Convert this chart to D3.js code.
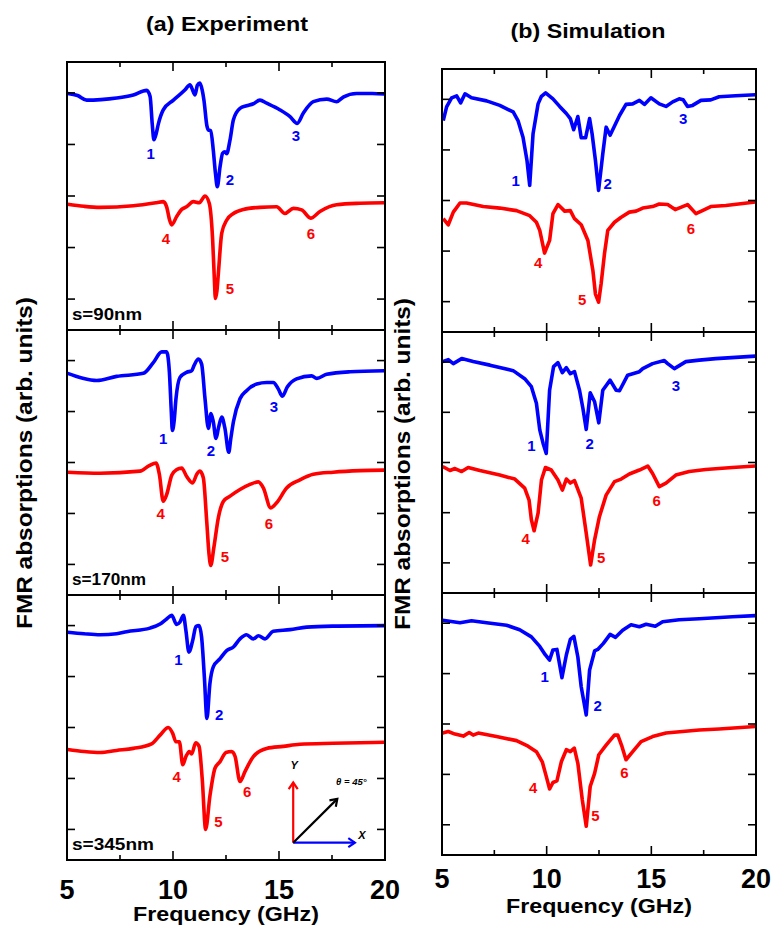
<!DOCTYPE html>
<html><head><meta charset="utf-8">
<script src="https://cdn.jsdelivr.net/npm/d3@7"></script>
<style>body{margin:0;background:#fff} text{font-family:"Liberation Sans",Arial,Helvetica,sans-serif;font-weight:bold}</style>
</head><body><svg id="c" width="774" height="928"></svg>
<script>
// ---------- data (frequency GHz, absorption arb. units) ----------
const freqTicks = [5, 10, 15, 20];
const freqMinor = [7.5, 12.5, 17.5];
const absTicks = [0, 1, 2, 3, 4];
const panelNames = ["s=90nm", "s=170nm", "s=345nm"];

const expBlue90 = [[5.03,3.99],[5.5,3.95],[5.93,3.86],[6.6,3.87],[7.34,3.90],[8.13,3.96],[8.76,4.05],[8.92,3.93],[9.02,3.4],[9.10,3.09],[9.2,3.2],[9.31,3.40],[9.54,3.67],[10.02,3.86],[10.57,4.06],[10.80,4.16],[10.9,4.08],[11.04,3.96],[11.15,4.15],[11.27,4.19],[11.38,4.05],[11.46,3.86],[11.60,3.36],[11.67,3.28],[11.78,3.27],[11.90,2.89],[12.0,2.45],[12.09,2.18],[12.22,2.57],[12.34,2.83],[12.45,2.86],[12.53,2.82],[12.69,3.09],[12.85,3.48],[13.16,3.70],[13.47,3.75],[13.79,3.79],[14.10,3.86],[14.42,3.80],[15.05,3.67],[15.52,3.54],[15.86,3.41],[16.15,3.61],[16.62,3.83],[17.25,3.88],[17.72,3.83],[18.03,3.92],[18.66,3.99],[19.4,3.99],[19.97,3.98]];
const expRed90 = [[5.03,1.84],[5.8,1.80],[6.56,1.78],[8.13,1.81],[9.23,1.87],[9.54,1.89],[9.70,1.79],[9.85,1.52],[9.94,1.44],[10.17,1.60],[10.41,1.74],[10.64,1.79],[10.96,1.89],[11.24,1.87],[11.51,2.00],[11.71,1.86],[11.87,1.15],[11.95,0.40],[12.0,0.01],[12.07,0.15],[12.14,0.50],[12.30,1.28],[12.53,1.53],[12.85,1.66],[13.32,1.74],[14.10,1.78],[14.89,1.79],[15.28,1.66],[15.68,1.76],[16.07,1.73],[16.49,1.57],[16.93,1.70],[17.72,1.83],[18.82,1.86],[19.97,1.87]];
const expLabels90 = [["1",8.95,2.82],["2",12.69,2.31],["3",15.80,3.17],["4",9.67,1.18],["5",12.69,0.21],["6",16.51,1.28]];

const expBlue170 = [[5.03,3.75],[5.7,3.66],[6.40,3.61],[7.34,3.69],[8.60,3.75],[9.07,3.96],[9.47,4.17],[9.70,4.17],[9.83,3.77],[9.92,3.0],[9.97,2.63],[10.05,2.8],[10.14,3.25],[10.33,3.67],[10.64,3.77],[10.88,3.80],[10.99,3.90],[11.20,4.03],[11.35,3.93],[11.51,3.25],[11.67,2.67],[11.79,2.96],[11.90,2.80],[12.03,2.47],[12.14,2.67],[12.30,2.89],[12.45,2.67],[12.63,2.20],[12.72,2.45],[12.85,2.80],[13.16,3.25],[13.47,3.41],[13.95,3.54],[14.42,3.57],[14.73,3.57],[14.97,3.44],[15.16,3.30],[15.39,3.48],[15.83,3.64],[16.54,3.70],[16.78,3.65],[17.25,3.73],[18.35,3.78],[19.97,3.80]];
const expRed170 = [[5.03,1.81],[6.56,1.79],[8.44,1.83],[8.88,1.94],[9.20,1.99],[9.36,1.76],[9.54,1.24],[9.70,1.37],[9.94,1.75],[10.17,1.86],[10.41,1.89],[10.64,1.73],[10.93,1.60],[11.12,1.77],[11.27,1.83],[11.43,1.70],[11.59,0.85],[11.70,0.2],[11.78,-0.02],[11.93,0.34],[12.14,0.92],[12.38,1.24],[12.69,1.34],[13.16,1.47],[13.63,1.57],[14.03,1.62],[14.26,1.50],[14.61,1.11],[14.89,1.21],[15.36,1.50],[15.99,1.66],[16.62,1.77],[17.56,1.81],[18.82,1.84],[19.97,1.85]];
const expLabels170 = [["1",9.54,2.46],["2",11.79,2.23],["3",14.76,3.09],["4",9.42,1.00],["5",12.45,0.16],["6",14.53,0.80]];

const expBlue345 = [[5.03,3.87],[5.8,3.84],[6.56,3.82],[7.34,3.84],[7.81,3.88],[8.91,3.95],[9.39,4.03],[9.70,4.13],[9.94,4.20],[10.17,4.02],[10.33,4.07],[10.49,4.20],[10.61,3.90],[10.75,3.48],[10.93,3.71],[11.08,3.98],[11.23,4.00],[11.35,3.77],[11.48,2.99],[11.60,2.18],[11.74,2.86],[11.90,3.19],[12.22,3.35],[12.53,3.51],[12.85,3.58],[13.16,3.74],[13.47,3.82],[13.79,3.74],[14.03,3.80],[14.34,3.74],[14.73,3.89],[15.52,3.92],[16.31,3.97],[17.56,3.99],[19.97,4.00]];
const expRed345 = [[5.03,1.57],[5.8,1.53],[6.56,1.51],[7.34,1.55],[8.13,1.59],[8.99,1.68],[9.39,1.85],[9.78,2.00],[9.98,1.89],[10.14,1.72],[10.30,1.72],[10.46,1.27],[10.61,1.43],[10.77,1.53],[10.88,1.48],[11.07,1.70],[11.23,1.63],[11.38,0.98],[11.54,0.00],[11.74,0.65],[11.98,1.20],[12.22,1.33],[12.50,1.51],[12.77,1.53],[12.93,1.43],[13.16,0.94],[13.40,1.14],[13.79,1.43],[14.42,1.59],[15.20,1.63],[15.99,1.67],[17.56,1.69],[19.97,1.71]];
const expLabels345 = [["1",10.25,3.33],["2",12.18,2.26],["4",10.17,1.04],["5",12.14,0.16],["6",13.50,0.75]];

const simBlue90 = [[5.06,3.58],[5.22,3.85],[5.46,4.03],[5.70,4.07],[5.89,3.93],[6.10,4.11],[6.41,4.03],[7.13,3.97],[7.76,3.88],[8.40,3.75],[8.63,3.58],[8.87,3.25],[9.06,2.79],[9.19,2.30],[9.35,3.32],[9.59,3.91],[9.75,4.06],[9.95,4.13],[10.30,4.01],[10.62,3.86],[10.94,3.72],[11.13,3.62],[11.29,3.40],[11.49,3.66],[11.65,3.24],[11.86,3.24],[12.05,3.62],[12.17,3.32],[12.33,2.79],[12.48,2.20],[12.68,2.92],[12.84,3.45],[13.03,3.29],[13.48,3.68],[13.79,3.90],[14.11,3.91],[14.43,3.98],[14.67,3.90],[14.98,4.03],[15.38,3.91],[15.70,3.86],[16.02,3.95],[16.33,4.01],[16.52,3.99],[16.73,3.86],[16.97,3.88],[17.37,3.98],[17.84,3.99],[18.24,4.05],[19.03,4.07],[19.97,4.09]];
const simRed90 = [[5.06,1.64],[5.30,1.52],[5.54,1.77],[5.86,1.95],[6.17,1.95],[6.97,1.88],[7.76,1.85],[8.56,1.80],[9.19,1.70],[9.51,1.57],[9.67,1.41],[9.90,0.96],[10.14,1.21],[10.30,1.74],[10.54,1.92],[10.86,1.79],[11.13,1.80],[11.33,1.64],[11.65,1.52],[11.97,1.21],[12.21,0.61],[12.33,0.15],[12.48,-0.01],[12.60,0.35],[12.76,0.94],[12.92,1.41],[13.24,1.57],[13.56,1.67],[13.95,1.77],[14.27,1.79],[14.59,1.85],[15.06,1.88],[15.38,1.93],[15.78,1.92],[16.14,1.82],[16.73,1.92],[17.13,1.74],[17.44,1.80],[17.84,1.88],[18.56,1.90],[19.97,1.97]];
const simLabels90 = [["1",8.52,2.40],["2",12.92,2.34],["3",16.52,3.62],["4",9.59,0.78],["5",11.70,0.05],["6",16.89,1.44]];

const simBlue170 = [[5.03,4.01],[5.30,4.05],[5.54,3.97],[5.94,4.07],[6.49,4.01],[7.29,3.94],[8.40,3.83],[8.95,3.67],[9.27,3.51],[9.51,3.18],[9.67,2.65],[9.83,2.38],[9.98,2.18],[10.14,3.44],[10.33,3.91],[10.54,3.99],[10.75,3.79],[10.94,3.89],[11.13,3.77],[11.33,3.81],[11.57,3.44],[11.73,3.08],[11.89,2.66],[12.08,3.39],[12.29,3.21],[12.49,2.79],[12.68,3.44],[13.03,3.64],[13.32,3.44],[13.48,3.43],[13.87,3.74],[14.43,3.81],[14.59,3.87],[15.06,3.97],[15.62,4.03],[15.78,3.97],[16.10,3.87],[16.65,4.01],[17.29,4.04],[18.08,4.07],[19.97,4.12]];
const simRed170 = [[5.03,1.92],[5.38,1.84],[5.62,1.88],[5.94,1.82],[6.25,1.90],[6.81,1.84],[7.76,1.75],[8.48,1.67],[8.95,1.49],[9.16,1.25],[9.27,0.86],[9.40,0.64],[9.59,0.99],[9.75,1.65],[9.94,1.90],[10.22,1.85],[10.54,1.65],[10.75,1.45],[10.94,1.67],[11.13,1.59],[11.33,1.64],[11.65,1.29],[11.89,0.59],[12.10,-0.04],[12.29,0.46],[12.52,0.92],[12.84,1.35],[13.24,1.62],[13.56,1.67],[13.95,1.77],[14.43,1.85],[14.83,1.93],[15.06,1.78],[15.38,1.52],[15.70,1.59],[16.17,1.75],[16.81,1.82],[17.60,1.86],[18.87,1.90],[19.97,1.93]];
const simLabels170 = [["1",9.27,2.33],["2",12.05,2.38],["3",16.18,3.54],["4",9.00,0.49],["5",12.60,0.11],["6",15.25,1.24]];

const simBlue345 = [[5.03,4.06],[5.86,4.01],[6.41,4.05],[7.13,4.01],[8.08,3.96],[8.71,3.87],[9.27,3.73],[9.67,3.54],[9.94,3.37],[10.14,3.27],[10.30,3.47],[10.49,3.48],[10.73,2.92],[10.94,3.37],[11.13,3.68],[11.30,3.74],[11.49,3.33],[11.65,2.74],[11.89,2.18],[12.05,3.07],[12.29,3.45],[12.44,3.48],[12.71,3.60],[13.03,3.78],[13.29,3.72],[13.63,3.86],[14.03,3.97],[14.43,3.93],[14.75,3.98],[15.19,3.94],[15.54,4.03],[16.33,4.07],[17.29,4.09],[18.87,4.13],[19.97,4.15]];
const simRed345 = [[5.03,1.82],[5.30,1.85],[5.62,1.80],[6.02,1.76],[6.30,1.83],[6.49,1.78],[6.73,1.82],[7.60,1.75],[8.56,1.67],[9.11,1.56],[9.51,1.45],[9.79,1.25],[9.98,0.96],[10.14,0.71],[10.30,0.84],[10.49,0.87],[10.70,1.25],[10.94,1.49],[11.13,1.45],[11.32,1.52],[11.49,1.22],[11.70,0.50],[11.89,-0.03],[12.08,0.76],[12.29,1.02],[12.49,1.39],[12.84,1.58],[13.24,1.78],[13.40,1.78],[13.60,1.55],[13.79,1.29],[14.11,1.45],[14.51,1.65],[15.06,1.75],[15.70,1.82],[16.49,1.85],[17.29,1.88],[18.24,1.90],[19.97,1.95]];
const simLabels345 = [["1",9.90,2.95],["2",12.44,2.36],["4",9.35,0.73],["5",12.33,0.18],["6",13.71,1.04]];

// inset (field direction sketch) in data coords of the lower experiment panel
const insetOrigin = [15.67, -0.26];
const insetYTip = [15.67, 0.92];
const insetXTip = [18.58, -0.26];
const insetHTip = [17.75, 0.60];

// ---------- layout ----------
const BLUE = "#0000ff", RED = "#ff0000";
const svg = d3.select("#c");
const columns = [
  { x0: 67, x1: 385, tops: [62, 330, 595], bottom: 860, title: "(a) Experiment", tx: 227, ty: 31, tw: 162,
    yl: 32, tickY: 899, xlY: 921, names: true, smooth: true,
    data: [[expBlue90, expRed90, expLabels90], [expBlue170, expRed170, expLabels170], [expBlue345, expRed345, expLabels345]] },
  { x0: 442, x1: 756, tops: [69, 332, 593], bottom: 855, title: "(b) Simulation", tx: 588, ty: 38, tw: 155,
    yl: 410, tickY: 888, xlY: 913, names: false, smooth: false,
    data: [[simBlue90, simRed90, simLabels90], [simBlue170, simRed170, simLabels170], [simBlue345, simRed345, simLabels345]] }
];
const nameWidths = [70, 74, 82];

columns.forEach((col, ci) => {
  const x = d3.scaleLinear().domain([5, 20]).range([col.x0, col.x1]);
  svg.append("text").attr("x", col.tx).attr("y", col.ty).attr("text-anchor", "middle")
    .attr("font-size", 21).attr("textLength", col.tw).attr("lengthAdjust", "spacingAndGlyphs").text(col.title);
  const ymid = (col.tops[0] + col.bottom) / 2 + 2;
  svg.append("text").attr("transform", `translate(${col.yl},${ymid}) rotate(-90)`).attr("text-anchor", "middle")
    .attr("font-size", 22).attr("textLength", 332).attr("lengthAdjust", "spacingAndGlyphs")
    .text("FMR absorptions (arb. units)");

  col.data.forEach((d, pi) => {
    const top = col.tops[pi];
    const bot = pi < 2 ? col.tops[pi + 1] : col.bottom;
    const y = d3.scaleLinear().domain([-0.6, 4.6]).range([bot, top]);
    const g = svg.append("g");
    const line = d3.line().x(p => x(p[0])).y(p => y(p[1])).curve(col.smooth ? d3.curveMonotoneX : d3.curveLinear);
    g.append("path").datum(d[0]).attr("d", line).attr("fill", "none").attr("stroke", BLUE)
      .attr("stroke-width", 3.6).attr("stroke-linejoin", "round");
    g.append("path").datum(d[1]).attr("d", line).attr("fill", "none").attr("stroke", RED)
      .attr("stroke-width", 3.6).attr("stroke-linejoin", "round");
    g.selectAll("text.pk").data(d[2]).join("text").attr("class", "pk")
      .attr("x", p => x(p[1])).attr("y", p => y(p[2])).attr("dy", "0.36em")
      .attr("text-anchor", "middle").attr("font-size", 15)
      .attr("fill", p => (+p[0] <= 3 ? BLUE : RED)).text(p => p[0]);
    g.append("rect").attr("x", col.x0).attr("y", top).attr("width", col.x1 - col.x0).attr("height", bot - top)
      .attr("fill", "none").attr("stroke", "#000").attr("stroke-width", 2);
    const xt = freqTicks.map(v => [v, 9]).concat(freqMinor.map(v => [v, 5]));
    xt.forEach(([v, L]) => {
      if (v === 5 || v === 20) return;
      g.append("line").attr("x1", x(v)).attr("x2", x(v)).attr("y1", bot).attr("y2", bot - L).attr("stroke", "#000").attr("stroke-width", 1.6);
      g.append("line").attr("x1", x(v)).attr("x2", x(v)).attr("y1", top).attr("y2", top + L).attr("stroke", "#000").attr("stroke-width", 1.6);
    });
    absTicks.forEach(v => {
      g.append("line").attr("x1", col.x0).attr("x2", col.x0 + 8).attr("y1", y(v)).attr("y2", y(v)).attr("stroke", "#000").attr("stroke-width", 1.6);
      g.append("line").attr("x1", col.x1).attr("x2", col.x1 - 8).attr("y1", y(v)).attr("y2", y(v)).attr("stroke", "#000").attr("stroke-width", 1.6);
    });
    if (col.names) {
      g.append("text").attr("x", col.x0 + 5).attr("y", bot - 10).attr("font-size", 16)
        .attr("textLength", nameWidths[pi]).attr("lengthAdjust", "spacingAndGlyphs").text(panelNames[pi]);
    }
    if (ci === 0 && pi === 2) {
      const arrows = [[insetYTip, RED], [insetXTip, BLUE], [insetHTip, "#000"]];
      const ox = x(insetOrigin[0]), oy = y(insetOrigin[1]);
      arrows.forEach(([tip, c]) => {
        const tx = x(tip[0]), ty = y(tip[1]);
        const ang = Math.atan2(ty - oy, tx - ox);
        const h = 8, a = 0.6;
        g.append("line").attr("x1", ox).attr("y1", oy).attr("x2", tx).attr("y2", ty).attr("stroke", c).attr("stroke-width", 2.2);
        g.append("path").attr("d",
          `M${tx - h * Math.cos(ang - a)},${ty - h * Math.sin(ang - a)}L${tx},${ty}L${tx - h * Math.cos(ang + a)},${ty - h * Math.sin(ang + a)}`)
          .attr("fill", "none").attr("stroke", c).attr("stroke-width", 2.2);
      });
      g.append("text").attr("x", x(insetYTip[0]) + 1).attr("y", y(insetYTip[1]) - 14).attr("text-anchor", "middle")
        .attr("font-size", 11).attr("font-style", "italic").text("Y");
      g.append("text").attr("x", x(insetXTip[0]) + 7).attr("y", y(insetXTip[1]) - 4).attr("text-anchor", "middle")
        .attr("font-size", 11).attr("font-style", "italic").text("X");
      g.append("text").attr("x", x(insetHTip[0]) + 14).attr("y", y(insetHTip[1]) - 14).attr("text-anchor", "middle")
        .attr("font-size", 9.5).attr("font-style", "italic").attr("font-weight", "normal").text("θ = 45°");
    }
  });
  freqTicks.forEach(v => {
    svg.append("text").attr("x", x(v)).attr("y", col.tickY).attr("text-anchor", "middle").attr("font-size", 27).text(v);
  });
  svg.append("text").attr("x", (col.x0 + col.x1) / 2).attr("y", col.xlY).attr("text-anchor", "middle")
    .attr("font-size", 20).attr("textLength", 186).attr("lengthAdjust", "spacingAndGlyphs").text("Frequency (GHz)");
});
</script></body></html>
